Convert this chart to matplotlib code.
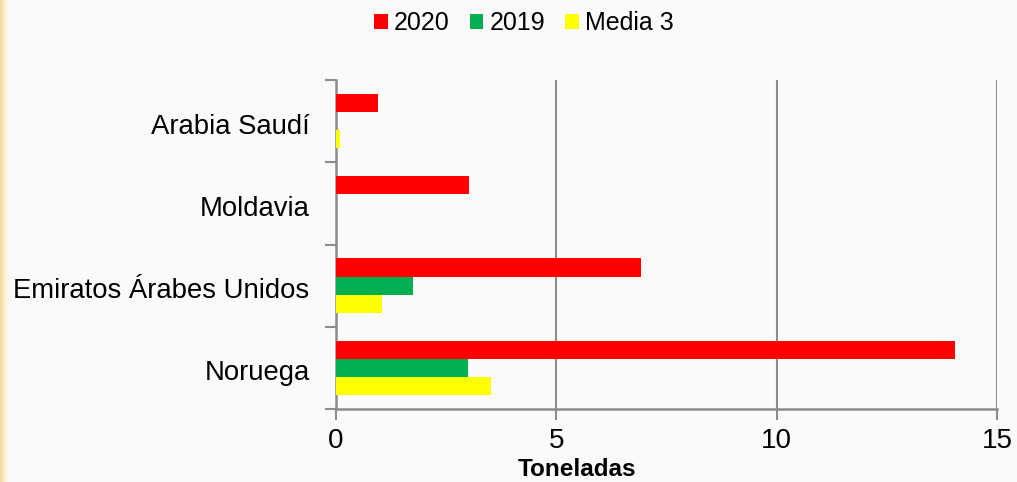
import matplotlib
matplotlib.use("Agg")
import matplotlib.pyplot as plt
import numpy as np
from matplotlib.colors import LinearSegmentedColormap

categories = ["Arabia Saudí", "Moldavia", "Emiratos Árabes Unidos", "Noruega"]
series_names = ["2020", "2019", "Media 3"]
v2020 = [0.95, 3.02, 6.92, 14.05]
v2019 = [0.0, 0.0, 1.75, 3.0]
vmedia = [0.08, 0.0, 1.04, 3.52]
colors = ["#FF0000", "#00B050", "#FFFF00"]
xticks = [0, 5, 10, 15]

plt.rcParams['font.family'] = ['Liberation Sans', 'DejaVu Sans']

fig = plt.figure(figsize=(10.17, 4.82), dpi=100)
fig.patch.set_facecolor("#FAFAFA")

# gold strip at left edge
grad = np.linspace(0, 1, 50).reshape(1, -1)
strip = fig.add_axes([0, 0, 0.009, 1])
cmap = LinearSegmentedColormap.from_list("g", ["#F2D79A", "#FBF0CF", "#FAFAFA"])
strip.imshow(grad, aspect="auto", cmap=cmap, extent=[0, 1, 0, 1])
strip.axis("off")

ax = fig.add_axes([336/1017, 1-409/482, (997-336)/1017, (409-80)/482])
ax.set_facecolor("#FAFAFA")

n = len(categories)
ypos = np.arange(n)[::-1]  # first category at top
h = 0.22
for i, (vals, c, name) in enumerate(zip([v2020, v2019, vmedia], colors, series_names)):
    ax.barh(ypos + (1 - i) * h, vals, height=h, color=c, label=name, zorder=3)

ax.set_xlim(0, 15)
ax.set_ylim(-0.5, n - 0.5)
ax.set_xticks(xticks)
ax.set_xticklabels([str(t) for t in xticks], fontsize=20)
ax.set_yticks(ypos - 0.03)
ax.set_yticklabels(categories, fontsize=19.8)
ax.set_yticks(np.arange(-0.5, n, 1.0), minor=True)
ax.tick_params(axis="y", which="major", length=0, pad=19)
ax.tick_params(axis="y", which="minor", length=8, width=1.5, color="#8C8C8C")
ax.tick_params(axis="x", which="major", length=8, width=1.5, color="#8C8C8C", pad=6)
ax.grid(axis="x", color="#8C8C8C", linewidth=1.5, zorder=0)
for s in ["top", "right"]:
    ax.spines[s].set_visible(False)
for s in ["left", "bottom"]:
    ax.spines[s].set_color("#8C8C8C")
    ax.spines[s].set_linewidth(1.8)

ax.set_xlabel("Toneladas", fontsize=17.5, fontweight="bold")
ax.xaxis.set_label_coords((577-336)/661, -(470-409)/329, transform=ax.transAxes)
ax.xaxis.label.set_va("center")

handles, labels = ax.get_legend_handles_labels()
fig.legend(handles, labels, loc="center", bbox_to_anchor=(524/1017, 1-23/482), ncol=3,
           frameon=False, fontsize=18, handlelength=0.55, handleheight=0.55,
           handletextpad=0.25, columnspacing=0.8)

fig.savefig("out.png", dpi=100, facecolor=fig.get_facecolor())
